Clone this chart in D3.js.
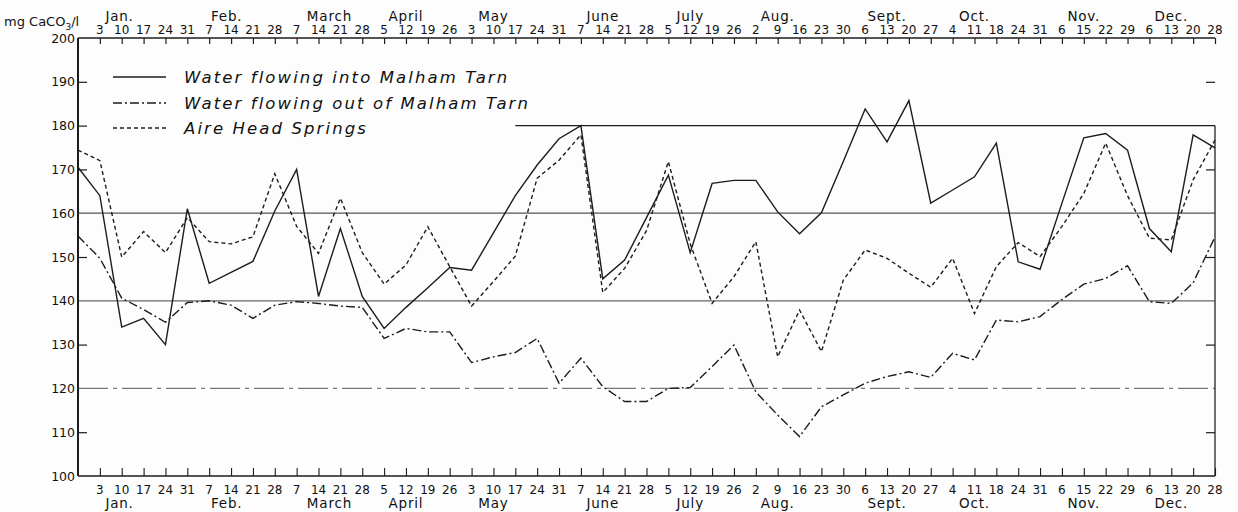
<!DOCTYPE html>
<html>
<head>
<meta charset="utf-8">
<script src="https://cdn.jsdelivr.net/npm/d3@7"></script>
<style>
  html, body { margin: 0; padding: 0; background: #fdfdfd; }
  svg { display: block; }
  text { font-family: "DejaVu Sans", "Liberation Sans", sans-serif; fill: #111; }
</style>
</head>
<body>
<svg id="chart" width="1238" height="512"></svg>
<script>
// ---- data ----
const dayLabels = ["3","10","17","24","31","7","14","21","28","7","14","21","28","5","12","19","26",
  "3","10","17","24","31","7","14","21","28","5","12","19","26","2","9","16","23","30",
  "6","13","20","27","4","11","18","24","31","6","15","22","29","6","13","20","28"];
const monthNames = ["Jan.","Feb.","March","April","May","June","July","Aug.","Sept.","Oct.","Nov.","Dec."];
const monthAnchor = [1.9, 6.8, 11.5, 15.0, 19.0, 24.0, 28.0, 32.0, 37.0, 41.0, 46.0, 50.0];
const yTicks = [100,110,120,130,140,150,160,170,180,190,200];

const inflow = [170.5,164,134,136,130,161,144,146.5,149,160.5,170,141,156.5,141,133.7,138.5,143,147.6,
  147,155.5,164,171,177,180,145,149.3,159,168.7,151,166.8,167.5,167.5,160.3,155.3,160.1,171.8,183.8,
  176.3,185.7,162.3,165.3,168.3,176,148.9,147.2,162.3,177.2,178.2,174.4,156.5,151.2,177.9,174.9];
const outflow = [154.8,149.7,140.6,138,135.1,139.6,140,139,136,139,139.8,139.4,138.8,138.5,131.4,133.7,
  132.9,132.9,125.9,127.2,128.2,131.4,121.2,126.9,120.4,117,117,120,120.2,125,129.9,119.2,113.9,109,
  115.8,118.5,121.2,122.7,123.8,122.5,128,126.5,135.6,135.2,136.4,140.3,143.8,145.1,148,139.8,139.4,144.1,154.6];
const aireHead = [174.4,172,150,155.8,151,159,153.5,153,154.6,169,157,150.8,163.4,151,143.8,148.2,156.9,
  147.8,138.8,144.4,150.2,168,172.1,177.9,141.9,147.4,156,171.8,153,139.4,145.5,153.5,127.2,137.9,128.4,
  144.7,151.6,149.7,146.3,143.1,149.7,137.1,147.8,153.3,150.1,157,164.5,176,164,154.3,153.9,167.6,176.7];
const seriesNames = ["Water flowing into Malham Tarn","Water flowing out of Malham Tarn","Aire Head Springs"];

// ---- drawing ----
const svg = d3.select("#chart");
const x = d3.scaleLinear().domain([0, 52]).range([78, 1215]);
const y = d3.scaleLinear().domain([100, 200]).range([476, 38]);
const ink = "#1c1c1c";

// gridlines
const g = svg.append("g");
g.append("line").attr("x1", x(0)).attr("x2", x(52)).attr("y1", y(160)).attr("y2", y(160))
  .attr("stroke", "#555").attr("stroke-width", 1.2);
g.append("line").attr("x1", x(0)).attr("x2", x(52)).attr("y1", y(140)).attr("y2", y(140))
  .attr("stroke", "#666").attr("stroke-width", 1.2);
g.append("line").attr("x1", x(0)).attr("x2", x(52)).attr("y1", y(120)).attr("y2", y(120))
  .attr("stroke", "#777").attr("stroke-width", 1.1).attr("stroke-dasharray", "30,5,4,5");
g.append("line").attr("x1", x(20)).attr("x2", x(52)).attr("y1", y(180)).attr("y2", y(180))
  .attr("stroke", ink).attr("stroke-width", 1.3);

// left axis
const leftAxis = d3.axisRight(y).tickValues(yTicks.filter(v => v % 20 !== 0 || v === 180)).tickSize(9).tickFormat("");
svg.append("g").attr("transform", `translate(${x(0)},0)`).call(leftAxis)
  .call(a => a.select(".domain").remove())
  .selectAll("line").attr("stroke", ink).attr("stroke-width", 1.2);
svg.append("line").attr("x1", x(0)).attr("x2", x(0)).attr("y1", y(200)).attr("y2", y(100))
  .attr("stroke", ink).attr("stroke-width", 2);
svg.append("g").selectAll("text").data(yTicks).join("text")
  .attr("x", x(0) - 3).attr("y", d => y(d) + 4.5)
  .attr("text-anchor", "end").attr("font-size", 12.5).text(d => d);

// right axis
svg.append("line").attr("x1", x(52)).attr("x2", x(52)).attr("y1", y(180)).attr("y2", y(100))
  .attr("stroke", "#333").attr("stroke-width", 1.4);
const rightAxis = d3.axisLeft(y).tickValues([110,130,150,170,190]).tickSize(9).tickFormat("");
svg.append("g").attr("transform", `translate(${x(52)},0)`).call(rightAxis)
  .call(a => a.select(".domain").remove())
  .selectAll("line").attr("stroke", ink).attr("stroke-width", 1.2);

// top axis
const tickIdx = d3.range(1, 53);
svg.append("line").attr("x1", x(0)).attr("x2", x(52)).attr("y1", y(200)).attr("y2", y(200))
  .attr("stroke", ink).attr("stroke-width", 1.3);
const topAxis = d3.axisBottom(x).tickValues(tickIdx).tickSize(6).tickFormat("");
svg.append("g").attr("transform", `translate(0,${y(200)})`).call(topAxis)
  .call(a => a.select(".domain").remove())
  .selectAll("line").attr("stroke", ink).attr("stroke-width", 1.2);
svg.append("g").selectAll("text").data(tickIdx).join("text")
  .attr("x", d => x(d)).attr("y", 34).attr("text-anchor", "middle")
  .attr("font-size", 12).text((d, i) => dayLabels[i]);
svg.append("g").selectAll("text").data(monthNames).join("text")
  .attr("x", (d, i) => x(monthAnchor[i])).attr("y", 21).attr("text-anchor", "middle")
  .attr("font-size", 13.5).attr("letter-spacing", 0.8).text(d => d);

// bottom axis
svg.append("line").attr("x1", x(0)).attr("x2", x(52)).attr("y1", y(100)).attr("y2", y(100))
  .attr("stroke", ink).attr("stroke-width", 1.6);
const botAxis = d3.axisTop(x).tickValues(tickIdx).tickSize(8).tickFormat("");
svg.append("g").attr("transform", `translate(0,${y(100)})`).call(botAxis)
  .call(a => a.select(".domain").remove())
  .selectAll("line").attr("stroke", ink).attr("stroke-width", 1.1);
svg.append("g").selectAll("text").data(tickIdx).join("text")
  .attr("x", d => x(d)).attr("y", 494).attr("text-anchor", "middle")
  .attr("font-size", 12).text((d, i) => dayLabels[i]);
svg.append("g").selectAll("text").data(monthNames).join("text")
  .attr("x", (d, i) => x(monthAnchor[i])).attr("y", 508).attr("text-anchor", "middle")
  .attr("font-size", 13.5).attr("letter-spacing", 0.8).text(d => d);

// y unit title
const t = svg.append("text").attr("x", 4).attr("y", 26).attr("font-size", 13);
t.append("tspan").text("mg CaCO");
t.append("tspan").attr("font-size", 9).attr("dy", 4).text("3");
t.append("tspan").attr("dy", -4).text("/l");

// series
const line = d3.line().x((d, i) => x(i)).y(d => y(d));
const styles = [
  { data: inflow, dash: null },
  { data: outflow, dash: "9,3,2,3" },
  { data: aireHead, dash: "4,3" }
];
styles.forEach(s => {
  svg.append("path").datum(s.data).attr("d", line)
    .attr("fill", "none").attr("stroke", ink).attr("stroke-width", 1.4)
    .attr("stroke-linejoin", "miter").attr("stroke-dasharray", s.dash);
});

// legend
const legY = [77, 103, 128];
styles.forEach((s, i) => {
  svg.append("line").attr("x1", 113).attr("x2", 166).attr("y1", legY[i]).attr("y2", legY[i])
    .attr("stroke", ink).attr("stroke-width", 1.4).attr("stroke-dasharray", s.dash);
  svg.append("text").attr("x", 184).attr("y", legY[i] + 6)
    .attr("font-size", 16.5).attr("font-style", "italic").attr("letter-spacing", 2.1)
    .text(seriesNames[i]);
});
</script>
</body>
</html>
